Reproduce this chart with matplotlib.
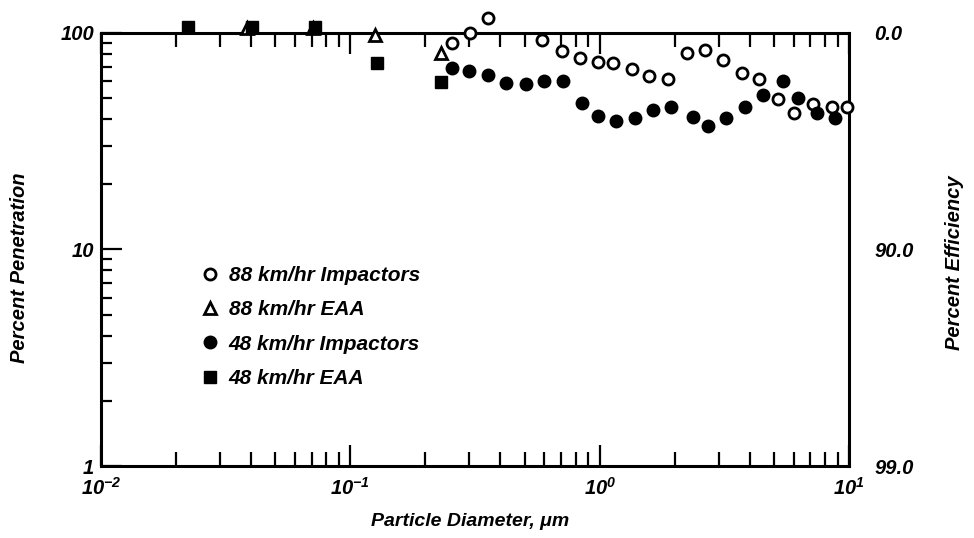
import matplotlib
matplotlib.use('Agg')
import matplotlib.pyplot as plt
from matplotlib.ticker import LogLocator, NullFormatter, FixedLocator, FixedFormatter

plt.rcParams['font.family'] = ['Liberation Sans', 'DejaVu Sans']
plt.rcParams['font.style'] = 'italic'
plt.rcParams['font.weight'] = 'bold'
plt.rcParams['axes.labelweight'] = 'bold'
plt.rcParams['mathtext.fontset'] = 'custom'
plt.rcParams['mathtext.it'] = 'Liberation Sans:italic:bold'
plt.rcParams['mathtext.rm'] = 'Liberation Sans:italic:bold'

# 88 km/hr impactors (open circles)
d88_imp = [0.255, 0.302, 0.358, 0.586, 0.705, 0.835, 0.988, 1.135, 1.345, 1.582,
           1.886, 2.236, 2.647, 3.117, 3.715, 4.371, 5.21, 6.02, 7.20, 8.53, 9.80]
p88_imp = [89.6, 99.7, 116.9, 92.8, 82.8, 76.4, 73.7, 72.4, 68.0, 63.3,
           61.3, 80.6, 83.5, 75.1, 65.1, 61.3, 49.4, 42.6, 46.9, 45.7, 45.4]

# 88 km/hr EAA (open triangles)
d88_eaa = [0.0386, 0.0708, 0.126, 0.231]
p88_eaa = [106.0, 106.0, 97.9, 80.9]

# 48 km/hr impactors (filled circles)
d48_imp = [0.255, 0.300, 0.356, 0.421, 0.507, 0.598, 0.711, 0.848, 0.988, 1.164,
           1.387, 1.642, 1.929, 2.363, 2.729, 3.214, 3.83, 4.536, 5.427, 6.266,
           7.426, 8.797]
p48_imp = [68.7, 67.0, 64.0, 58.6, 58.1, 60.0, 60.0, 47.4, 41.4, 39.3,
           40.4, 44.1, 45.7, 40.8, 37.2, 40.4, 45.4, 51.7, 60.2, 49.9,
           42.8, 40.4]

# 48 km/hr EAA (filled squares)
d48_eaa = [0.0223, 0.0404, 0.0721, 0.128, 0.231]
p48_eaa = [106.6, 106.6, 106.6, 72.7, 59.4]

xtick_vals = [0.01, 0.1, 1, 10]
xtick_labels = [r'$\mathit{10^{-2}}$', r'$\mathit{10^{-1}}$', r'$\mathit{10^{0}}$', r'$\mathit{10^{1}}$']
ytick_vals = [1, 10, 100]
ytick_labels = ['1', '10', '100']
eff_labels = ['99.0', '90.0', '0.0']

fig = plt.figure(figsize=(9.74, 5.38), dpi=100)
ax = fig.add_axes([0.1037, 0.1338, 0.7680, 0.8049])

ax.set_xscale('log')
ax.set_yscale('log')
ax.set_xlim(0.01, 10)
ax.set_ylim(1, 100)

ax.plot(d88_eaa, p88_eaa, '^', mfc='white', mec='black', mew=2, ms=8, ls='none',
        clip_on=False, label='88 km/hr EAA', zorder=3)
ax.plot(d48_eaa, p48_eaa, 's', mfc='black', mec='black', ms=9, ls='none',
        clip_on=False, label='48 km/hr EAA', zorder=4)
ax.plot(d88_imp, p88_imp, 'o', mfc='white', mec='black', mew=2, ms=8, ls='none',
        clip_on=False, label='88 km/hr Impactors', zorder=3)
ax.plot(d48_imp, p48_imp, 'o', mfc='black', mec='black', ms=9, ls='none',
        clip_on=False, label='48 km/hr Impactors', zorder=4)

for s in ax.spines.values():
    s.set_linewidth(2.2)

ax.xaxis.set_major_locator(FixedLocator(xtick_vals))
ax.xaxis.set_major_formatter(FixedFormatter(xtick_labels))
ax.xaxis.set_minor_locator(LogLocator(base=10, subs=range(2, 10)))
ax.xaxis.set_minor_formatter(NullFormatter())
ax.yaxis.set_major_locator(FixedLocator(ytick_vals))
ax.yaxis.set_major_formatter(FixedFormatter(ytick_labels))
ax.yaxis.set_minor_locator(LogLocator(base=10, subs=range(2, 10)))
ax.yaxis.set_minor_formatter(NullFormatter())

ax.tick_params(which='both', direction='in', top=True, right=True, width=1.6,
               labelsize=14.5)
ax.tick_params(which='major', length=15)
ax.tick_params(axis='x', which='minor', length=10)
ax.tick_params(axis='y', which='minor', length=8)
ax.tick_params(axis='x', which='major', pad=8)
ax.tick_params(axis='y', which='major', pad=5)

ax2 = ax.twinx()
ax2.set_yscale('log')
ax2.set_ylim(1, 100)
ax2.yaxis.set_major_locator(FixedLocator(ytick_vals))
ax2.yaxis.set_major_formatter(FixedFormatter(eff_labels))
ax2.yaxis.set_minor_formatter(NullFormatter())
ax2.tick_params(which='both', length=0, labelsize=14.5, pad=18)
for s in ax2.spines.values():
    s.set_visible(False)

ax.set_xlabel('Particle Diameter, μm', fontsize=14)
ax.xaxis.set_label_coords(0.493, -0.108)
ax.set_ylabel('Percent Penetration', fontsize=14.5)
ax.yaxis.set_label_coords(-0.096, 0.457)
ax2.set_ylabel('Percent Efficiency', fontsize=14.5)
ax2.yaxis.set_label_coords(1.128, 0.469)

handles, labels = ax.get_legend_handles_labels()
order = [2, 0, 3, 1]
ax.legend([handles[i] for i in order], [labels[i] for i in order],
          loc='center left', bbox_to_anchor=(0.136, 0.321), frameon=False,
          fontsize=15, handlelength=0.7, handletextpad=0.55, labelspacing=0.73,
          borderpad=0, borderaxespad=0, markerscale=1.0)

fig.savefig('out.png', dpi=100)
